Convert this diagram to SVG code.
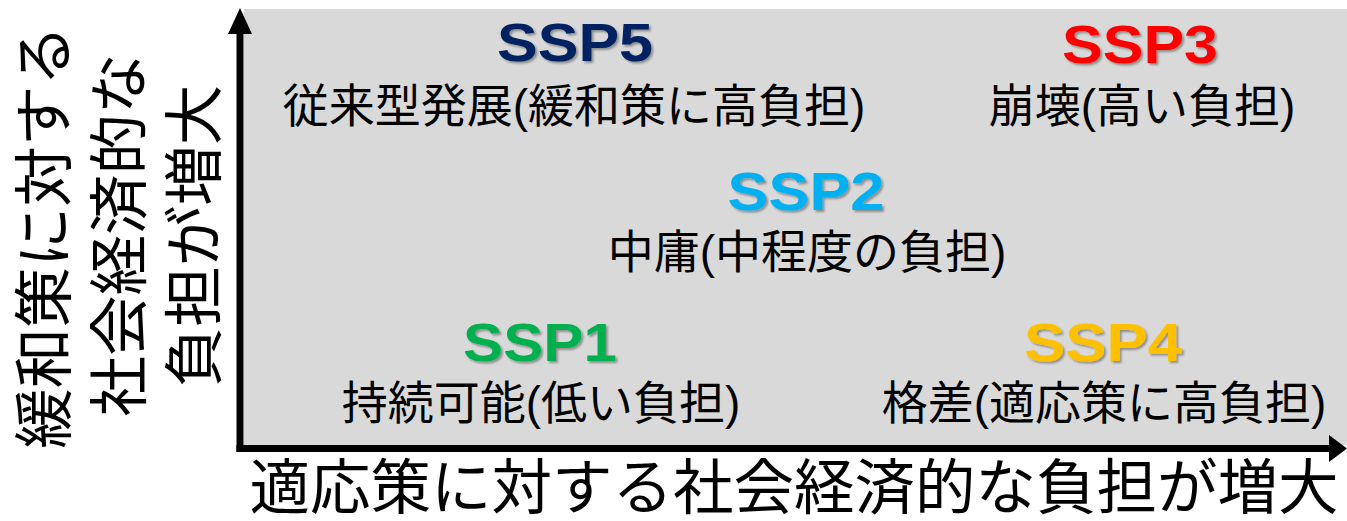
<svg xmlns="http://www.w3.org/2000/svg" width="1347" height="521" viewBox="0 0 1347 521">
<style>
.ssp{font-family:"Liberation Sans",Arial,sans-serif;font-weight:bold;font-size:54px;text-anchor:middle;filter:url(#sh)}
.jp{font-family:"Liberation Sans","Noto Sans CJK JP",sans-serif;font-size:46px;text-anchor:middle;fill:#000}
.ax{font-family:"Liberation Sans","Noto Sans CJK JP",sans-serif;font-size:60.5px;text-anchor:middle;fill:#000}
.axis{stroke:#000;stroke-width:7;fill:none}
</style>
<defs>
<filter id="sh" x="-10%" y="-10%" width="130%" height="140%">
<feDropShadow dx="2" dy="2" stdDeviation="1" flood-color="#000" flood-opacity="0.35"/>
</filter>
</defs>
<rect id="panel" x="244" y="9" width="1103" height="436" fill="#D9D9D9"/>
<g id="connectors">
<path class="axis" d="M240,452 V32"/>
<polygon points="240,8 228,34 252,34" fill="#000"/>
<path class="axis" d="M236.5,448.5 H1330"/>
<polygon points="1347,448.5 1329,435 1329,462" fill="#000"/>
</g>
<g id="ssp5">
<text class="ssp" x="575" y="61" fill="#002060" textLength="156" lengthAdjust="spacingAndGlyphs">SSP5</text>
<text class="jp" x="574" y="122">従来型発展(緩和策に高負担)</text>
</g>
<g id="ssp3">
<text class="ssp" x="1140" y="63" fill="#FF0000" textLength="156" lengthAdjust="spacingAndGlyphs">SSP3</text>
<text class="jp" x="1142" y="122">崩壊(高い負担)</text>
</g>
<g id="ssp2">
<text class="ssp" x="806" y="210" fill="#00B0F0" textLength="157" lengthAdjust="spacingAndGlyphs">SSP2</text>
<text class="jp" x="807" y="268">中庸(中程度の負担)</text>
</g>
<g id="ssp1">
<text class="ssp" x="540" y="361" fill="#00B050" textLength="154" lengthAdjust="spacingAndGlyphs">SSP1</text>
<text class="jp" x="541" y="419">持続可能(低い負担)</text>
</g>
<g id="ssp4">
<text class="ssp" x="1103" y="361" fill="#FFC000" textLength="158" lengthAdjust="spacingAndGlyphs">SSP4</text>
<text class="jp" x="1104" y="419">格差(適応策に高負担)</text>
</g>
<g id="x-label">
<text class="ax" x="794" y="509">適応策に対する社会経済的な負担が増大</text>
</g>
<g id="y-label">
<text class="ax" transform="translate(66,237) rotate(-90)">緩和策に対する</text>
<text class="ax" transform="translate(141,235) rotate(-90)">社会経済的な</text>
<text class="ax" transform="translate(216,236) rotate(-90)">負担が増大</text>
</g>
</svg>
